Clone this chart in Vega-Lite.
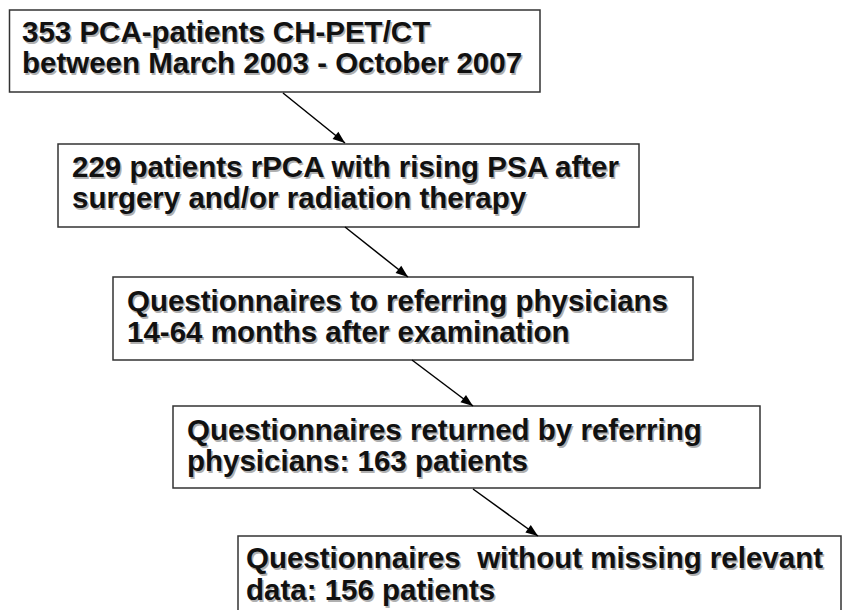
{
  "$schema": "https://vega.github.io/schema/vega-lite/v6.json",
  "width": 843,
  "height": 610,
  "padding": 0,
  "autosize": {"type": "fit", "contains": "padding"},
  "background": "white",
  "config": {"view": {"stroke": null}},
  "datasets": {
    "boxes": [
      {"box": 1, "x": 9.5, "x2": 540, "y": 10, "y2": 92},
      {"box": 2, "x": 58, "x2": 639, "y": 144, "y2": 227},
      {"box": 3, "x": 113, "x2": 693, "y": 277, "y2": 360},
      {"box": 4, "x": 173, "x2": 760, "y": 406, "y2": 488},
      {"box": 5, "x": 238, "x2": 841, "y": 536, "y2": 620}
    ],
    "lines": [
      {"box": 1, "x": 22, "y": 42, "t": "353 PCA-patients CH-PET/CT"},
      {"box": 1, "x": 22, "y": 73, "t": "between March 2003 - October 2007"},
      {"box": 2, "x": 72, "y": 177, "t": "229 patients rPCA with rising PSA after"},
      {"box": 2, "x": 72, "y": 208, "t": "surgery and/or radiation therapy"},
      {"box": 3, "x": 127, "y": 311, "t": "Questionnaires to referring physicians"},
      {"box": 3, "x": 127, "y": 342, "t": "14-64 months after examination"},
      {"box": 4, "x": 187, "y": 440, "t": "Questionnaires returned by referring"},
      {"box": 4, "x": 187, "y": 471, "t": "physicians: 163 patients"},
      {"box": 5, "x": 246, "y": 568, "t": "Questionnaires\u00a0 without missing relevant"},
      {"box": 5, "x": 246, "y": 600, "t": "data: 156 patients"}
    ],
    "arrows": [
      {"from": 1, "x": 283, "y": 93, "x2": 345, "y2": 143},
      {"from": 2, "x": 345, "y": 227, "x2": 408, "y2": 277},
      {"from": 3, "x": 412, "y": 360, "x2": 473, "y2": 406},
      {"from": 4, "x": 473, "y": 489, "x2": 538, "y2": 536}
    ]
  },
  "layer": [
    {
      "data": {"name": "boxes"},
      "mark": {"type": "rect", "fill": "white", "stroke": "#333333", "strokeWidth": 1.5, "clip": true},
      "encoding": {
        "x": {"field": "x", "type": "quantitative", "scale": {"domain": [0, 843], "nice": false, "zero": false}, "axis": null},
        "x2": {"field": "x2"},
        "y": {"field": "y", "type": "quantitative", "scale": {"domain": [0, 610], "nice": false, "zero": false, "reverse": true}, "axis": null},
        "y2": {"field": "y2"}
      }
    },
    {
      "data": {"name": "arrows"},
      "mark": {"type": "rule", "color": "black", "strokeWidth": 1.5},
      "encoding": {
        "x": {"field": "x", "type": "quantitative"},
        "x2": {"field": "x2"},
        "y": {"field": "y", "type": "quantitative"},
        "y2": {"field": "y2"}
      }
    },
    {
      "data": {"name": "arrows"},
      "transform": [
        {"calculate": "atan2(datum.x2 - datum.x, -(datum.y2 - datum.y)) * 180 / PI", "as": "ang"}
      ],
      "mark": {"type": "point", "shape": "M0,0L-0.75,2L0.75,2Z", "filled": true, "color": "black", "opacity": 1, "size": 150},
      "encoding": {
        "x": {"field": "x2", "type": "quantitative"},
        "y": {"field": "y2", "type": "quantitative"},
        "angle": {"field": "ang", "type": "quantitative", "scale": null}
      }
    },
    {
      "data": {"name": "lines"},
      "mark": {"type": "text", "align": "left", "baseline": "alphabetic", "font": "Liberation Sans", "fontWeight": "bold", "fontSize": 29.5, "color": "#b0b0b0", "dx": 1.5, "dy": 1.5},
      "encoding": {
        "x": {"field": "x", "type": "quantitative"},
        "y": {"field": "y", "type": "quantitative"},
        "text": {"field": "t"}
      }
    },
    {
      "data": {"name": "lines"},
      "mark": {"type": "text", "align": "left", "baseline": "alphabetic", "font": "Liberation Sans", "fontWeight": "bold", "fontSize": 29.5, "color": "#111111"},
      "encoding": {
        "x": {"field": "x", "type": "quantitative"},
        "y": {"field": "y", "type": "quantitative"},
        "text": {"field": "t"}
      }
    }
  ]
}
